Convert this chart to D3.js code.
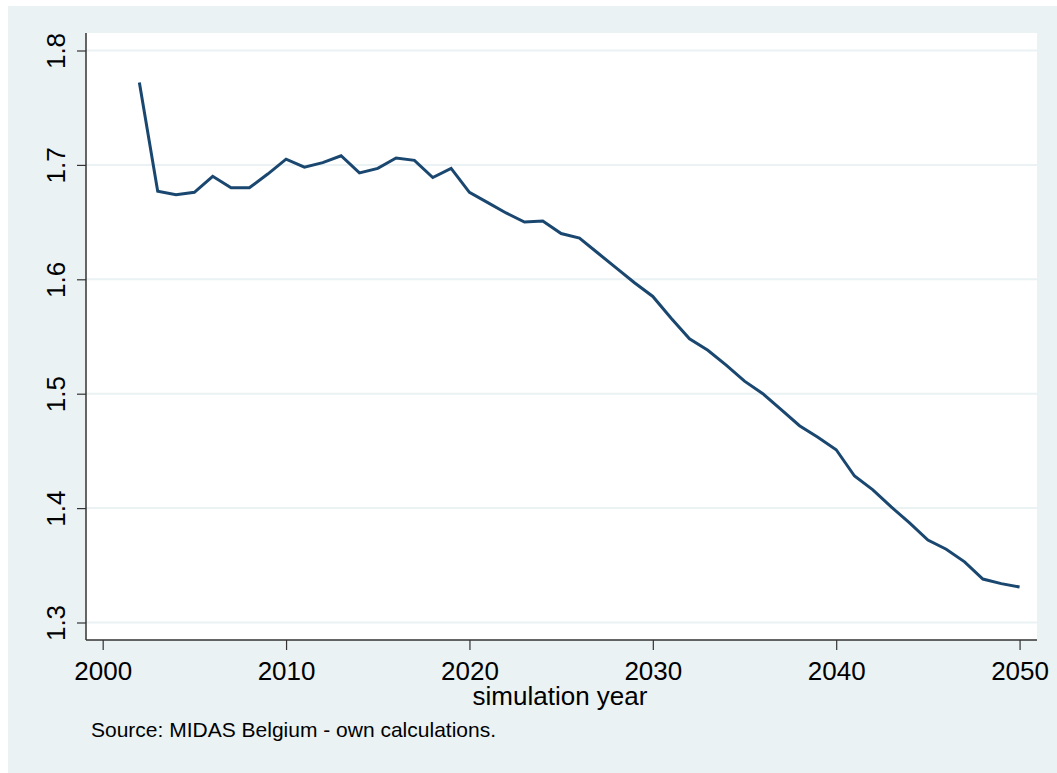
<!DOCTYPE html>
<html><head><meta charset="utf-8">
<script src="https://cdn.jsdelivr.net/npm/d3@7"></script>
<style>html,body{margin:0;padding:0;background:#fff;}svg{display:block;font-family:"Liberation Sans",Arial,sans-serif;}</style>
</head><body>
<script>
const years = d3.range(2002, 2051);
const values = [1.772,1.677,1.674,1.676,1.690,1.680,1.680,1.692,1.705,1.698,1.702,1.708,1.693,1.697,1.706,1.704,1.689,1.697,
1.676,1.667,1.658,1.650,1.651,1.640,1.636,1.623,1.610,1.597,1.585,1.566,1.548,1.538,1.525,1.511,1.500,1.486,1.472,1.462,1.451,
1.428,1.416,1.401,1.387,1.372,1.364,1.353,1.338,1.334,1.331];
const xTicks = [2000,2010,2020,2030,2040,2050];
const yTicks = [1.3,1.4,1.5,1.6,1.7,1.8];
const xTitle = "simulation year";
const note = "Source: MIDAS Belgium - own calculations.";

const W=1057,H=773;
const L=86,R=1037,T=33,B=640;
const svg=d3.select("body").append("svg").attr("width",W).attr("height",H);
svg.append("rect").attr("x",8).attr("y",6).attr("width",W-8).attr("height",H-6).attr("fill","#eaf2f3");
svg.append("rect").attr("x",L).attr("y",T).attr("width",R-L).attr("height",B-T).attr("fill","#fff");

const x=d3.scaleLinear().domain([1999.09,2050.95]).range([L,R]);
const y=d3.scaleLinear().domain([1.2847,1.8153]).range([B,T]);

// grid
svg.append("g").selectAll("line").data(yTicks).join("line")
  .attr("x1",L).attr("x2",R).attr("y1",d=>y(d)).attr("y2",d=>y(d))
  .attr("stroke","#eaf2f3").attr("stroke-width",2);

const yAxis=svg.append("g").attr("transform",`translate(${L},0)`)
  .call(d3.axisLeft(y).tickValues(yTicks).tickFormat(d3.format(".1f")).tickSize(9).tickPadding(8));
yAxis.select(".domain").attr("stroke","#333").attr("stroke-width",1.5).attr("d",`M0,${T}V${B}`);
yAxis.selectAll(".tick line").attr("stroke","#333").attr("stroke-width",1.2);
yAxis.selectAll(".tick text").attr("font-size",26).attr("fill","#000")
  .attr("transform","rotate(-90)").attr("x",0).attr("dy",0).attr("y",-21).attr("text-anchor","middle");

const xAxis=svg.append("g").attr("transform",`translate(0,${B})`)
  .call(d3.axisBottom(x).tickValues(xTicks).tickFormat(d3.format("d")).tickSize(10).tickPadding(8));
xAxis.select(".domain").attr("stroke","#333").attr("stroke-width",1.5).attr("d",`M${L},0H${R}`);
xAxis.selectAll(".tick line").attr("stroke","#333").attr("stroke-width",1.2);
xAxis.selectAll(".tick text").attr("font-size",26).attr("fill","#000").attr("dy",0).attr("y",40);

svg.append("path").datum(values)
  .attr("d",d3.line().x((d,i)=>x(years[i])).y(d=>y(d)))
  .attr("fill","none").attr("stroke","#1a476f").attr("stroke-width",3).attr("stroke-linejoin","miter");

svg.append("text").attr("x",560).attr("y",705).attr("text-anchor","middle").attr("font-size",26).text(xTitle);
svg.append("text").attr("x",91).attr("y",737).attr("font-size",21).text(note);
</script>
</body></html>
